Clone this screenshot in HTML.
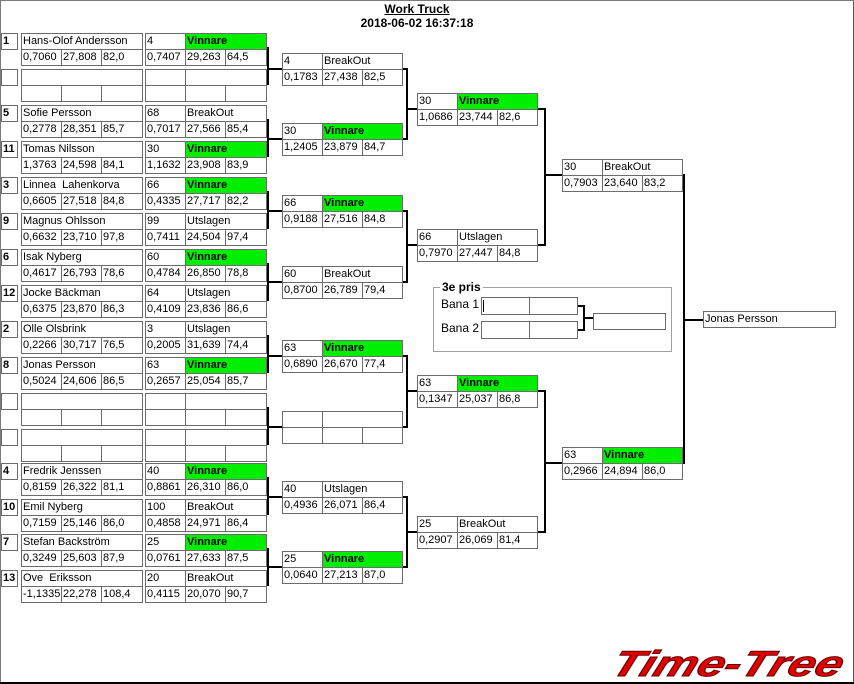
<!DOCTYPE html>
<html><head><meta charset="utf-8"><style>
body{margin:0;background:#fff;}
#w{position:relative;width:854px;height:684px;overflow:hidden;background:#fff;font-family:"Liberation Sans",sans-serif;font-size:11px;color:#000;}
.c{position:absolute;box-sizing:border-box;border:1px solid #6b6b6b;height:17px;line-height:15px;padding-left:1px;white-space:nowrap;overflow:hidden;background:#fff;}
.b{font-weight:bold;}
.g{background:#00ee00;font-weight:bold;}
svg{position:absolute;left:0;top:0;}
</style></head><body><div id="w">
<div style="position:absolute;left:0;top:0;width:852px;height:682px;border-left:1px solid #7a7a7a;border-top:1px solid #7a7a7a;border-right:2px solid #555;"></div>
<div style="position:absolute;left:0;top:682px;width:854px;height:2px;background:#000"></div>
<div class="b" style="position:absolute;left:0;width:834px;top:2px;text-align:center;text-decoration:underline;font-size:12px">Work Truck</div>
<div class="b" style="position:absolute;left:0;width:834px;top:16px;text-align:center;font-size:12px">2018-06-02 16:37:18</div>

<svg width="854" height="684">
<g stroke="#000" stroke-width="2" fill="none">
<path d="M266 48H268V84H266M268 69H282"/>
<path d="M266 120H268V156H266M268 139H282"/>
<path d="M266 192H268V228H266M268 211H282"/>
<path d="M266 264H268V300H266M268 282H282"/>
<path d="M266 336H268V372H266M268 356H282"/>
<path d="M266 408H268V444H266M268 427H282"/>
<path d="M266 478H268V514H266M268 497H282"/>
<path d="M266 549H268V585H266M268 567H282"/>
<path d="M402 69H407V139H402M407 109H417"/>
<path d="M402 211H407V282H402M407 245H417"/>
<path d="M402 356H407V427H402M407 391H417"/>
<path d="M402 497H407V567H402M407 532H417"/>
<path d="M537 109H545V245H537M545 175H562"/>
<path d="M537 391H545V532H537M545 463H562"/>
<path d="M682 175H684V463H682M684 320H703"/>
<path d="M577 306H584V330H577M584 318H593"/>
</g>
<text x="839" y="676" text-anchor="end" textLength="230" lengthAdjust="spacingAndGlyphs" font-family="Liberation Sans" font-weight="bold" font-style="italic" font-size="36" fill="#e00000" stroke="#600" stroke-width="1" transform="translate(246 0) skewX(-20)">Time-Tree</text>
</svg>

<!-- entrants -->
<div class="c b" style="left:1px;top:33px;width:17px">1</div><div class="c" style="left:21px;top:33px;width:122px">Hans-Olof Andersson</div>
<div class="c" style="left:21px;top:49px;width:41px">0,7060</div><div class="c" style="left:61px;top:49px;width:41px">27,808</div><div class="c" style="left:101px;top:49px;width:42px">82,0</div>
<div class="c" style="left:145px;top:33px;width:41px">4</div><div class="c g" style="left:185px;top:33px;width:82px">Vinnare</div>
<div class="c" style="left:145px;top:49px;width:41px">0,7407</div><div class="c" style="left:185px;top:49px;width:41px">29,263</div><div class="c" style="left:225px;top:49px;width:42px">64,5</div>

<div class="c b" style="left:1px;top:69px;width:17px"></div><div class="c" style="left:21px;top:69px;width:122px"></div>
<div class="c" style="left:21px;top:85px;width:41px"></div><div class="c" style="left:61px;top:85px;width:41px"></div><div class="c" style="left:101px;top:85px;width:42px"></div>
<div class="c" style="left:145px;top:69px;width:41px"></div><div class="c" style="left:185px;top:69px;width:82px"></div>
<div class="c" style="left:145px;top:85px;width:41px"></div><div class="c" style="left:185px;top:85px;width:41px"></div><div class="c" style="left:225px;top:85px;width:42px"></div>

<div class="c b" style="left:1px;top:105px;width:17px">5</div><div class="c" style="left:21px;top:105px;width:122px">Sofie Persson</div>
<div class="c" style="left:21px;top:121px;width:41px">0,2778</div><div class="c" style="left:61px;top:121px;width:41px">28,351</div><div class="c" style="left:101px;top:121px;width:42px">85,7</div>
<div class="c" style="left:145px;top:105px;width:41px">68</div><div class="c" style="left:185px;top:105px;width:82px">BreakOut</div>
<div class="c" style="left:145px;top:121px;width:41px">0,7017</div><div class="c" style="left:185px;top:121px;width:41px">27,566</div><div class="c" style="left:225px;top:121px;width:42px">85,4</div>

<div class="c b" style="left:1px;top:141px;width:17px">11</div><div class="c" style="left:21px;top:141px;width:122px">Tomas Nilsson</div>
<div class="c" style="left:21px;top:157px;width:41px">1,3763</div><div class="c" style="left:61px;top:157px;width:41px">24,598</div><div class="c" style="left:101px;top:157px;width:42px">84,1</div>
<div class="c" style="left:145px;top:141px;width:41px">30</div><div class="c g" style="left:185px;top:141px;width:82px">Vinnare</div>
<div class="c" style="left:145px;top:157px;width:41px">1,1632</div><div class="c" style="left:185px;top:157px;width:41px">23,908</div><div class="c" style="left:225px;top:157px;width:42px">83,9</div>

<div class="c b" style="left:1px;top:177px;width:17px">3</div><div class="c" style="left:21px;top:177px;width:122px">Linnea&nbsp; Lahenkorva</div>
<div class="c" style="left:21px;top:193px;width:41px">0,6605</div><div class="c" style="left:61px;top:193px;width:41px">27,518</div><div class="c" style="left:101px;top:193px;width:42px">84,8</div>
<div class="c" style="left:145px;top:177px;width:41px">66</div><div class="c g" style="left:185px;top:177px;width:82px">Vinnare</div>
<div class="c" style="left:145px;top:193px;width:41px">0,4335</div><div class="c" style="left:185px;top:193px;width:41px">27,717</div><div class="c" style="left:225px;top:193px;width:42px">82,2</div>

<div class="c b" style="left:1px;top:213px;width:17px">9</div><div class="c" style="left:21px;top:213px;width:122px">Magnus Ohlsson</div>
<div class="c" style="left:21px;top:229px;width:41px">0,6632</div><div class="c" style="left:61px;top:229px;width:41px">23,710</div><div class="c" style="left:101px;top:229px;width:42px">97,8</div>
<div class="c" style="left:145px;top:213px;width:41px">99</div><div class="c" style="left:185px;top:213px;width:82px">Utslagen</div>
<div class="c" style="left:145px;top:229px;width:41px">0,7411</div><div class="c" style="left:185px;top:229px;width:41px">24,504</div><div class="c" style="left:225px;top:229px;width:42px">97,4</div>

<div class="c b" style="left:1px;top:249px;width:17px">6</div><div class="c" style="left:21px;top:249px;width:122px">Isak Nyberg</div>
<div class="c" style="left:21px;top:265px;width:41px">0,4617</div><div class="c" style="left:61px;top:265px;width:41px">26,793</div><div class="c" style="left:101px;top:265px;width:42px">78,6</div>
<div class="c" style="left:145px;top:249px;width:41px">60</div><div class="c g" style="left:185px;top:249px;width:82px">Vinnare</div>
<div class="c" style="left:145px;top:265px;width:41px">0,4784</div><div class="c" style="left:185px;top:265px;width:41px">26,850</div><div class="c" style="left:225px;top:265px;width:42px">78,8</div>

<div class="c b" style="left:1px;top:285px;width:17px">12</div><div class="c" style="left:21px;top:285px;width:122px">Jocke Bäckman</div>
<div class="c" style="left:21px;top:301px;width:41px">0,6375</div><div class="c" style="left:61px;top:301px;width:41px">23,870</div><div class="c" style="left:101px;top:301px;width:42px">86,3</div>
<div class="c" style="left:145px;top:285px;width:41px">64</div><div class="c" style="left:185px;top:285px;width:82px">Utslagen</div>
<div class="c" style="left:145px;top:301px;width:41px">0,4109</div><div class="c" style="left:185px;top:301px;width:41px">23,836</div><div class="c" style="left:225px;top:301px;width:42px">86,6</div>

<div class="c b" style="left:1px;top:321px;width:17px">2</div><div class="c" style="left:21px;top:321px;width:122px">Olle Olsbrink</div>
<div class="c" style="left:21px;top:337px;width:41px">0,2266</div><div class="c" style="left:61px;top:337px;width:41px">30,717</div><div class="c" style="left:101px;top:337px;width:42px">76,5</div>
<div class="c" style="left:145px;top:321px;width:41px">3</div><div class="c" style="left:185px;top:321px;width:82px">Utslagen</div>
<div class="c" style="left:145px;top:337px;width:41px">0,2005</div><div class="c" style="left:185px;top:337px;width:41px">31,639</div><div class="c" style="left:225px;top:337px;width:42px">74,4</div>

<div class="c b" style="left:1px;top:357px;width:17px">8</div><div class="c" style="left:21px;top:357px;width:122px">Jonas Persson</div>
<div class="c" style="left:21px;top:373px;width:41px">0,5024</div><div class="c" style="left:61px;top:373px;width:41px">24,606</div><div class="c" style="left:101px;top:373px;width:42px">86,5</div>
<div class="c" style="left:145px;top:357px;width:41px">63</div><div class="c g" style="left:185px;top:357px;width:82px">Vinnare</div>
<div class="c" style="left:145px;top:373px;width:41px">0,2657</div><div class="c" style="left:185px;top:373px;width:41px">25,054</div><div class="c" style="left:225px;top:373px;width:42px">85,7</div>

<div class="c b" style="left:1px;top:393px;width:17px"></div><div class="c" style="left:21px;top:393px;width:122px"></div>
<div class="c" style="left:21px;top:409px;width:41px"></div><div class="c" style="left:61px;top:409px;width:41px"></div><div class="c" style="left:101px;top:409px;width:42px"></div>
<div class="c" style="left:145px;top:393px;width:41px"></div><div class="c" style="left:185px;top:393px;width:82px"></div>
<div class="c" style="left:145px;top:409px;width:41px"></div><div class="c" style="left:185px;top:409px;width:41px"></div><div class="c" style="left:225px;top:409px;width:42px"></div>

<div class="c b" style="left:1px;top:429px;width:17px"></div><div class="c" style="left:21px;top:429px;width:122px"></div>
<div class="c" style="left:21px;top:445px;width:41px"></div><div class="c" style="left:61px;top:445px;width:41px"></div><div class="c" style="left:101px;top:445px;width:42px"></div>
<div class="c" style="left:145px;top:429px;width:41px"></div><div class="c" style="left:185px;top:429px;width:82px"></div>
<div class="c" style="left:145px;top:445px;width:41px"></div><div class="c" style="left:185px;top:445px;width:41px"></div><div class="c" style="left:225px;top:445px;width:42px"></div>

<div class="c b" style="left:1px;top:463px;width:17px">4</div><div class="c" style="left:21px;top:463px;width:122px">Fredrik Jenssen</div>
<div class="c" style="left:21px;top:479px;width:41px">0,8159</div><div class="c" style="left:61px;top:479px;width:41px">26,322</div><div class="c" style="left:101px;top:479px;width:42px">81,1</div>
<div class="c" style="left:145px;top:463px;width:41px">40</div><div class="c g" style="left:185px;top:463px;width:82px">Vinnare</div>
<div class="c" style="left:145px;top:479px;width:41px">0,8861</div><div class="c" style="left:185px;top:479px;width:41px">26,310</div><div class="c" style="left:225px;top:479px;width:42px">86,0</div>

<div class="c b" style="left:1px;top:499px;width:17px">10</div><div class="c" style="left:21px;top:499px;width:122px">Emil Nyberg</div>
<div class="c" style="left:21px;top:515px;width:41px">0,7159</div><div class="c" style="left:61px;top:515px;width:41px">25,146</div><div class="c" style="left:101px;top:515px;width:42px">86,0</div>
<div class="c" style="left:145px;top:499px;width:41px">100</div><div class="c" style="left:185px;top:499px;width:82px">BreakOut</div>
<div class="c" style="left:145px;top:515px;width:41px">0,4858</div><div class="c" style="left:185px;top:515px;width:41px">24,971</div><div class="c" style="left:225px;top:515px;width:42px">86,4</div>

<div class="c b" style="left:1px;top:534px;width:17px">7</div><div class="c" style="left:21px;top:534px;width:122px">Stefan Backström</div>
<div class="c" style="left:21px;top:550px;width:41px">0,3249</div><div class="c" style="left:61px;top:550px;width:41px">25,603</div><div class="c" style="left:101px;top:550px;width:42px">87,9</div>
<div class="c" style="left:145px;top:534px;width:41px">25</div><div class="c g" style="left:185px;top:534px;width:82px">Vinnare</div>
<div class="c" style="left:145px;top:550px;width:41px">0,0761</div><div class="c" style="left:185px;top:550px;width:41px">27,633</div><div class="c" style="left:225px;top:550px;width:42px">87,5</div>

<div class="c b" style="left:1px;top:570px;width:17px">13</div><div class="c" style="left:21px;top:570px;width:122px">Ove&nbsp; Eriksson</div>
<div class="c" style="left:21px;top:586px;width:41px">-1,1335</div><div class="c" style="left:61px;top:586px;width:41px">22,278</div><div class="c" style="left:101px;top:586px;width:42px">108,4</div>
<div class="c" style="left:145px;top:570px;width:41px">20</div><div class="c" style="left:185px;top:570px;width:82px">BreakOut</div>
<div class="c" style="left:145px;top:586px;width:41px">0,4115</div><div class="c" style="left:185px;top:586px;width:41px">20,070</div><div class="c" style="left:225px;top:586px;width:42px">90,7</div>

<!-- round 2 -->
<div class="c" style="left:282px;top:53px;width:41px">4</div><div class="c" style="left:322px;top:53px;width:81px">BreakOut</div>
<div class="c" style="left:282px;top:69px;width:41px">0,1783</div><div class="c" style="left:322px;top:69px;width:41px">27,438</div><div class="c" style="left:362px;top:69px;width:41px">82,5</div>
<div class="c" style="left:282px;top:123px;width:41px">30</div><div class="c g" style="left:322px;top:123px;width:81px">Vinnare</div>
<div class="c" style="left:282px;top:139px;width:41px">1,2405</div><div class="c" style="left:322px;top:139px;width:41px">23,879</div><div class="c" style="left:362px;top:139px;width:41px">84,7</div>
<div class="c" style="left:282px;top:195px;width:41px">66</div><div class="c g" style="left:322px;top:195px;width:81px">Vinnare</div>
<div class="c" style="left:282px;top:211px;width:41px">0,9188</div><div class="c" style="left:322px;top:211px;width:41px">27,516</div><div class="c" style="left:362px;top:211px;width:41px">84,8</div>
<div class="c" style="left:282px;top:266px;width:41px">60</div><div class="c" style="left:322px;top:266px;width:81px">BreakOut</div>
<div class="c" style="left:282px;top:282px;width:41px">0,8700</div><div class="c" style="left:322px;top:282px;width:41px">26,789</div><div class="c" style="left:362px;top:282px;width:41px">79,4</div>
<div class="c" style="left:282px;top:340px;width:41px">63</div><div class="c g" style="left:322px;top:340px;width:81px">Vinnare</div>
<div class="c" style="left:282px;top:356px;width:41px">0,6890</div><div class="c" style="left:322px;top:356px;width:41px">26,670</div><div class="c" style="left:362px;top:356px;width:41px">77,4</div>
<div class="c" style="left:282px;top:411px;width:41px"></div><div class="c" style="left:322px;top:411px;width:81px"></div>
<div class="c" style="left:282px;top:427px;width:41px"></div><div class="c" style="left:322px;top:427px;width:41px"></div><div class="c" style="left:362px;top:427px;width:41px"></div>
<div class="c" style="left:282px;top:481px;width:41px">40</div><div class="c" style="left:322px;top:481px;width:81px">Utslagen</div>
<div class="c" style="left:282px;top:497px;width:41px">0,4936</div><div class="c" style="left:322px;top:497px;width:41px">26,071</div><div class="c" style="left:362px;top:497px;width:41px">86,4</div>
<div class="c" style="left:282px;top:551px;width:41px">25</div><div class="c g" style="left:322px;top:551px;width:81px">Vinnare</div>
<div class="c" style="left:282px;top:567px;width:41px">0,0640</div><div class="c" style="left:322px;top:567px;width:41px">27,213</div><div class="c" style="left:362px;top:567px;width:41px">87,0</div>

<!-- round 3 -->
<div class="c" style="left:417px;top:93px;width:41px">30</div><div class="c g" style="left:457px;top:93px;width:81px">Vinnare</div>
<div class="c" style="left:417px;top:109px;width:41px">1,0686</div><div class="c" style="left:457px;top:109px;width:41px">23,744</div><div class="c" style="left:497px;top:109px;width:41px">82,6</div>
<div class="c" style="left:417px;top:229px;width:41px">66</div><div class="c" style="left:457px;top:229px;width:81px">Utslagen</div>
<div class="c" style="left:417px;top:245px;width:41px">0,7970</div><div class="c" style="left:457px;top:245px;width:41px">27,447</div><div class="c" style="left:497px;top:245px;width:41px">84,8</div>
<div class="c" style="left:417px;top:375px;width:41px">63</div><div class="c g" style="left:457px;top:375px;width:81px">Vinnare</div>
<div class="c" style="left:417px;top:391px;width:41px">0,1347</div><div class="c" style="left:457px;top:391px;width:41px">25,037</div><div class="c" style="left:497px;top:391px;width:41px">86,8</div>
<div class="c" style="left:417px;top:516px;width:41px">25</div><div class="c" style="left:457px;top:516px;width:81px">BreakOut</div>
<div class="c" style="left:417px;top:532px;width:41px">0,2907</div><div class="c" style="left:457px;top:532px;width:41px">26,069</div><div class="c" style="left:497px;top:532px;width:41px">81,4</div>

<!-- round 4 -->
<div class="c" style="left:562px;top:159px;width:41px">30</div><div class="c" style="left:602px;top:159px;width:81px">BreakOut</div>
<div class="c" style="left:562px;top:175px;width:41px">0,7903</div><div class="c" style="left:602px;top:175px;width:41px">23,640</div><div class="c" style="left:642px;top:175px;width:41px">83,2</div>
<div class="c" style="left:562px;top:447px;width:41px">63</div><div class="c g" style="left:602px;top:447px;width:81px">Vinnare</div>
<div class="c" style="left:562px;top:463px;width:41px">0,2966</div><div class="c" style="left:602px;top:463px;width:41px">24,894</div><div class="c" style="left:642px;top:463px;width:41px">86,0</div>

<!-- final -->
<div class="c" style="left:703px;top:311px;width:133px">Jonas Persson</div>

<!-- 3e pris -->
<div style="position:absolute;left:433px;top:287px;width:237px;height:63px;border:1px solid #a0a0a0;"></div>
<div class="b" style="position:absolute;left:440px;top:280px;padding:0 2px;background:#fff;font-size:12px">3e pris</div>
<div style="position:absolute;left:441px;top:297px;font-size:12px">Bana 1</div>
<div style="position:absolute;left:441px;top:321px;font-size:12px">Bana 2</div>
<div class="c" style="left:481px;top:297px;width:49px;height:18px"></div><div class="c" style="left:529px;top:297px;width:49px;height:18px"></div>
<div style="position:absolute;left:483px;top:300px;width:1px;height:12px;background:#000"></div>
<div class="c" style="left:481px;top:321px;width:49px;height:18px"></div><div class="c" style="left:529px;top:321px;width:49px;height:18px"></div>
<div class="c" style="left:593px;top:313px;width:73px;height:17px"></div>
</div></body></html>
